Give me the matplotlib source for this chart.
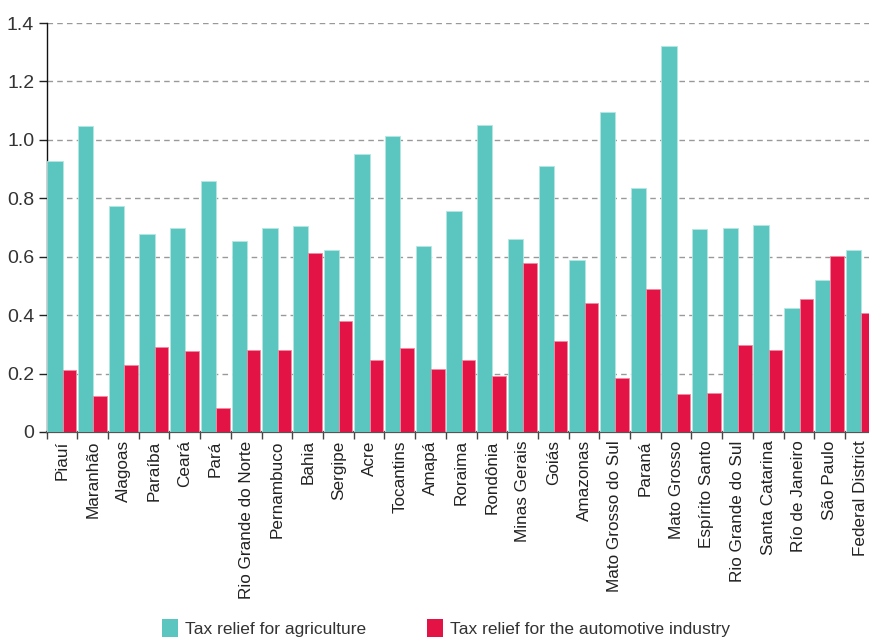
import numpy as np
import matplotlib
matplotlib.use("Agg")
import matplotlib.pyplot as plt
from matplotlib.patches import Patch
from matplotlib.ticker import FixedLocator, FuncFormatter

states = [
    "Piauí", "Maranhão", "Alagoas", "Paraíba", "Ceará", "Pará",
    "Rio Grande do Norte", "Pernambuco", "Bahia", "Sergipe", "Acre",
    "Tocantins", "Amapá", "Roraima", "Rondônia", "Minas Gerais", "Goiás",
    "Amazonas", "Mato Grosso do Sul", "Paraná", "Mato Grosso",
    "Espírito Santo", "Rio Grande do Sul", "Santa Catarina",
    "Río de Janeiro", "São Paulo", "Federal District",
]
agriculture = [
    0.928, 1.046, 0.775, 0.679, 0.700, 0.858, 0.654, 0.700, 0.705, 0.623,
    0.950, 1.015, 0.638, 0.756, 1.051, 0.659, 0.909, 0.588, 1.096, 0.837,
    1.321, 0.694, 0.700, 0.709, 0.425, 0.522, 0.623,
]
automotive = [
    0.211, 0.124, 0.231, 0.292, 0.276, 0.083, 0.282, 0.282, 0.612, 0.379,
    0.247, 0.287, 0.217, 0.247, 0.191, 0.578, 0.313, 0.440, 0.185, 0.491,
    0.129, 0.135, 0.297, 0.282, 0.454, 0.603, 0.409,
]

fonts = ["Liberation Sans Narrow", "Liberation Sans", "Arial", "DejaVu Sans"]
plt.rcParams["font.family"] = fonts

teal = "#5bc5bf"
red = "#e31445"

fig = plt.figure(figsize=(8.69, 6.4), dpi=100)
# axes runs a little past the right edge, as in the source
ax = fig.add_axes([0.0537, 0.325, 0.954, 0.639])

x = np.arange(len(states))
ax.bar(x + 0.02, agriculture, width=0.50, align="edge", color=teal,
       edgecolor="#b5e6e3", linewidth=0.6, zorder=3)
ax.bar(x + 0.52, automotive, width=0.44, align="edge", color=red,
       edgecolor="#f28aa2", linewidth=0.6, zorder=3)

ax.set_xlim(0, len(states))
ax.set_ylim(0, 1.4)

# y axis
ax.set_yticks(np.arange(0, 1.41, 0.2))
ax.yaxis.set_major_formatter(FuncFormatter(lambda v, p: "0" if v == 0 else f"{v:.1f}"))
ax.tick_params(axis="y", length=6, width=1, color="#222222", pad=3,
               labelsize=14, labelcolor="#333333")
for v in np.arange(0.2, 1.41, 0.2):
    ax.axhline(v, color="#999999", linestyle=(0, (4, 3)), linewidth=1.0, zorder=1)

# x axis: ticks at group boundaries, labels at group centres
ax.xaxis.set_major_locator(FixedLocator(np.arange(0, len(states) + 1)))
ax.xaxis.set_major_formatter(FuncFormatter(lambda v, p: ""))
ax.xaxis.set_minor_locator(FixedLocator(x + 0.5))
ax.set_xticklabels(states, minor=True, rotation=90,
                   family=["Liberation Sans", "Arial", "DejaVu Sans"],
                   fontsize=12.3, color="#222222")
ax.tick_params(axis="x", which="major", length=5, width=1, color="#444444")
ax.tick_params(axis="x", which="minor", length=0, pad=6)

for side in ["top", "right"]:
    ax.spines[side].set_visible(False)
ax.spines["left"].set_color("#111111")
ax.spines["left"].set_linewidth(1.0)
ax.spines["bottom"].set_color("#555555")
ax.spines["bottom"].set_linewidth(1.6)

handles = [
    Patch(facecolor=teal, edgecolor="none", label="Tax relief for agriculture"),
    Patch(facecolor=red, edgecolor="none", label="Tax relief for the automotive industry"),
]
leg = fig.legend(handles=handles, loc="center", bbox_to_anchor=(0.513, 0.019),
                 ncol=2, frameon=False, handlelength=0.92, handleheight=1.2,
                 handletextpad=0.4, columnspacing=3.5,
                 prop={"size": 12.5})
for t in leg.get_texts():
    t.set_color("#333333")

fig.savefig("out.png", dpi=100)
